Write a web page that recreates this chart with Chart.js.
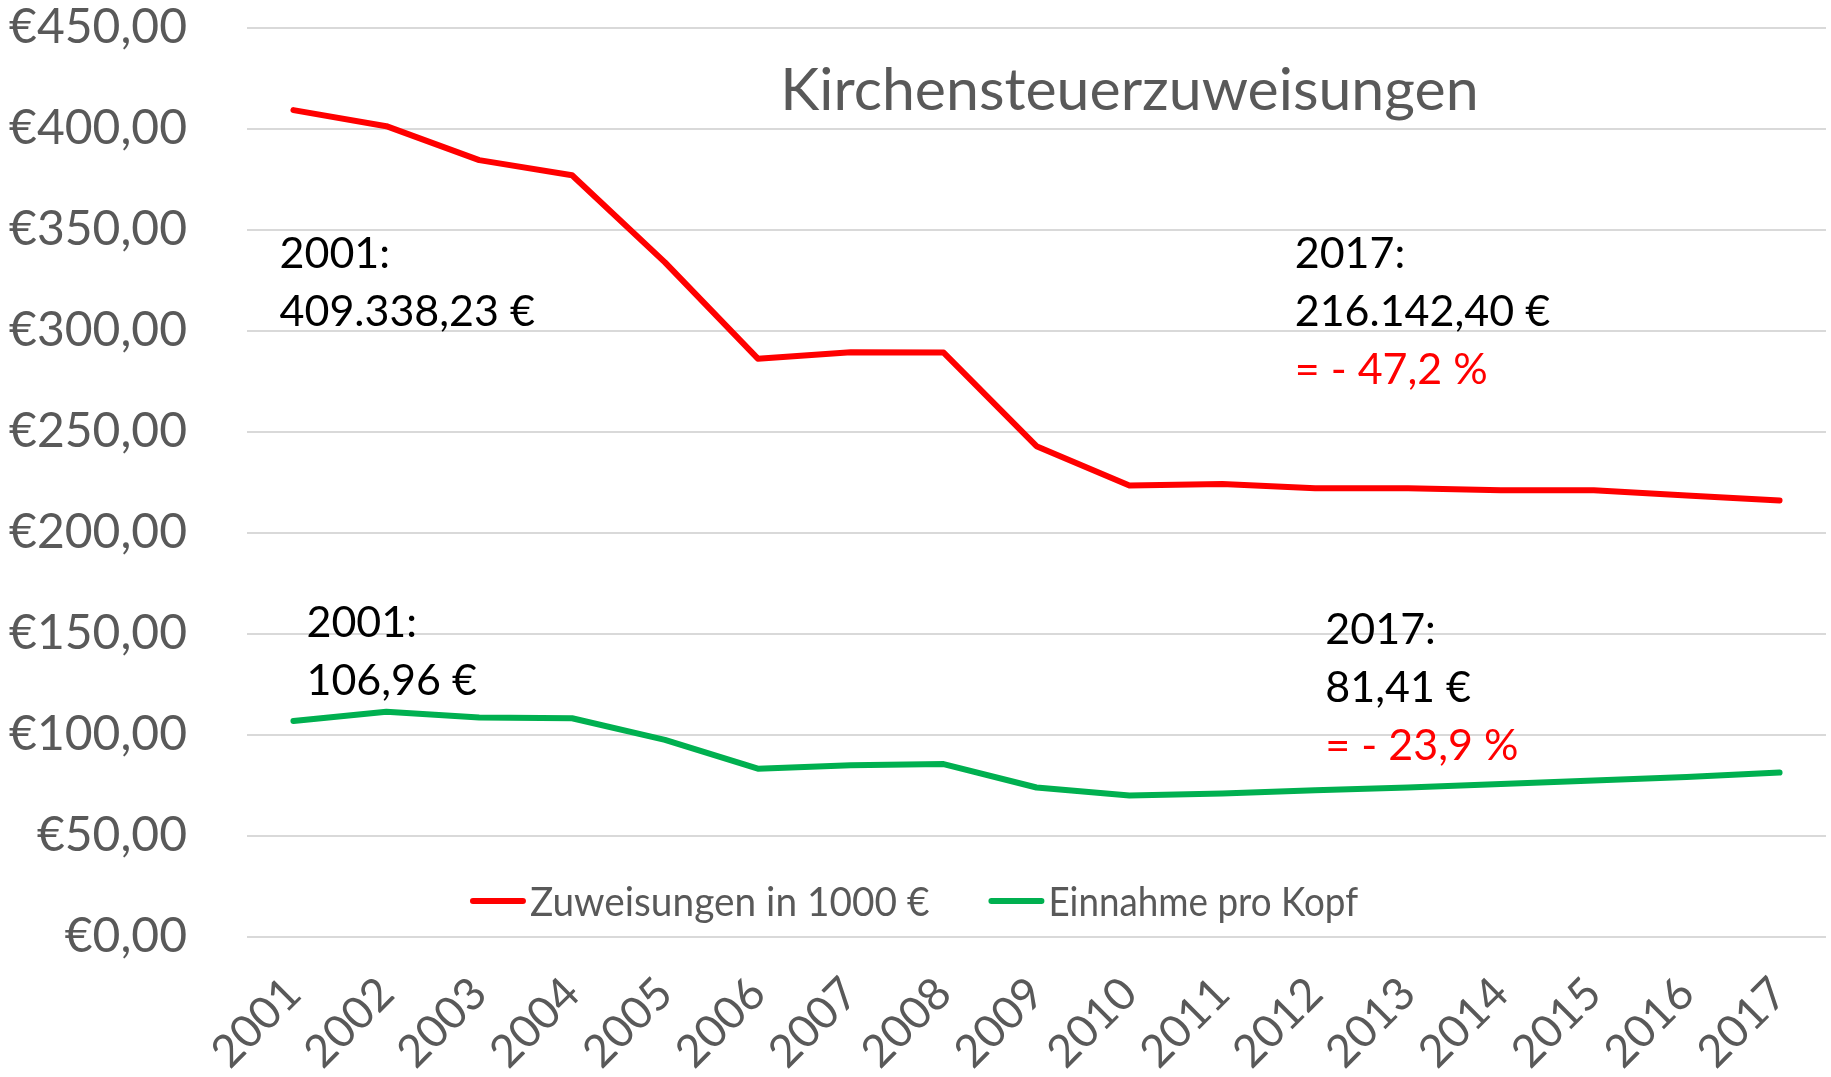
<!DOCTYPE html>
<html>
<head>
<meta charset="utf-8">
<title>Kirchensteuerzuweisungen</title>
<script src="https://cdn.jsdelivr.net/npm/chart.js@4.4.1/dist/chart.umd.min.js"></script>
<style>
  html, body { margin: 0; padding: 0; background: #fff; }
  #wrap { width: 1831px; height: 1077px; }
</style>
</head>
<body>
<div id="wrap"><canvas id="kirchenChart" width="1831" height="1077"></canvas></div>
<script>
// data
const years = ['2001', '2002', '2003', '2004', '2005', '2006', '2007', '2008', '2009',
               '2010', '2011', '2012', '2013', '2014', '2015', '2016', '2017'];
const zuweisungen = [409.34, 401.4, 384.6, 377.1, 334.0, 286.3, 289.5, 289.3, 243.0,
                     223.5, 224.3, 222.1, 222.1, 221.2, 221.2, 218.6, 216.14];
const einnahmeProKopf = [106.96, 111.5, 108.7, 108.3, 97.6, 83.3, 85.0, 85.6, 74.0,
                         70.1, 71.0, 72.6, 74.0, 75.8, 77.5, 79.2, 81.41];
const seriesLabels = ['Zuweisungen in 1000 €', 'Einnahme pro Kopf'];
const seriesColors = ['#FF0000', '#00B050'];
const yMin = 0, yMax = 450, yStep = 50;
const chartTitle = 'Kirchensteuerzuweisungen';

const noteZuw2001 = ['2001:', '409.338,23 €'];
const noteZuw2017 = ['2017:', '216.142,40 €', '= - 47,2 %'];
const noteKopf2001 = ['2001:', '106,96 €'];
const noteKopf2017 = ['2017:', '81,41 €', '= - 23,9 %'];

const FONT = 'Lato, "Open Sans", sans-serif';
const GREY = '#595959';

const euro = v => '€' + v.toFixed(2).replace('.', ',');

// title + text boxes are anchored in data space (category index, value)
const overlay = {
  id: 'overlay',
  afterDatasetsDraw(chart) {
    const { ctx, scales: { x, y }, chartArea } = chart;
    ctx.save();
    ctx.textBaseline = 'middle';

    ctx.font = '59px ' + FONT;
    ctx.fillStyle = GREY;
    ctx.textAlign = 'center';
    ctx.fillText(chartTitle, x.getPixelForValue(9), y.getPixelForValue(419));

    const notes = [
      { at: [-0.15, 338], lines: noteZuw2001 },
      { at: [10.78, 338], lines: noteZuw2017 },
      { at: [0.14, 155.4], lines: noteKopf2001 },
      { at: [11.11, 151.8], lines: noteKopf2017 }
    ];
    ctx.font = '43px ' + FONT;
    ctx.textAlign = 'left';
    notes.forEach(n => {
      const px = x.getPixelForValue(n.at[0]);
      const py = y.getPixelForValue(n.at[1]);
      n.lines.forEach((t, i) => {
        ctx.fillStyle = t.startsWith('=') ? '#FF0000' : '#000000';
        ctx.fillText(t, px, py + i * 58);
      });
    });

    // legend sits inside the plot, just above the zero line
    ctx.font = '40px ' + FONT;
    const squeeze = [0.97, 0.92];
    const sample = 50, gap = 7, between = 62;
    const widths = seriesLabels.map((l, i) => ctx.measureText(l).width * squeeze[i]);
    const total = widths.reduce((a, w) => a + sample + gap + w, 0) + between;
    let lx = (chart.width - total) / 2;
    const ly = chartArea.bottom - 36;
    seriesLabels.forEach((l, i) => {
      ctx.strokeStyle = seriesColors[i];
      ctx.lineWidth = 6;
      ctx.lineCap = 'round';
      ctx.beginPath();
      ctx.moveTo(lx, ly);
      ctx.lineTo(lx + sample, ly);
      ctx.stroke();
      lx += sample + gap;
      ctx.save();
      ctx.translate(lx, ly);
      ctx.scale(squeeze[i], 1);
      ctx.fillStyle = GREY;
      ctx.fillText(l, 0, 2);
      ctx.restore();
      lx += widths[i] + between;
    });
    ctx.restore();
  }
};

new Chart(document.getElementById('kirchenChart').getContext('2d'), {
  type: 'line',
  data: {
    labels: years,
    datasets: [
      { label: seriesLabels[0], data: zuweisungen, borderColor: seriesColors[0], borderWidth: 6,
        pointRadius: 0, tension: 0, fill: false, borderJoinStyle: 'round', borderCapStyle: 'round' },
      { label: seriesLabels[1], data: einnahmeProKopf, borderColor: seriesColors[1], borderWidth: 6,
        pointRadius: 0, tension: 0, fill: false, borderJoinStyle: 'round', borderCapStyle: 'round' }
    ]
  },
  options: {
    responsive: false,
    animation: false,
    layout: { padding: { top: 28, right: 5, left: 0, bottom: 0 } },
    plugins: { legend: { display: false }, title: { display: false }, tooltip: { enabled: false } },
    scales: {
      x: {
        offset: true,
        grid: { display: false },
        border: { display: false },
        ticks: { color: GREY, font: { family: FONT, size: 45 }, minRotation: 45, maxRotation: 45, padding: 22 },
        afterFit: s => { s.height = 140; s.paddingLeft = 0; s.paddingRight = 0; }
      },
      y: {
        min: yMin, max: yMax,
        grid: { color: '#D9D9D9', lineWidth: 2, drawTicks: false },
        border: { display: false },
        ticks: { stepSize: yStep, color: GREY, font: { family: FONT, size: 48 }, padding: 60, callback: v => euro(v) },
        afterFit: s => { s.width = 247; s.paddingTop = 0; s.paddingBottom = 0; }
      }
    }
  },
  plugins: [overlay]
});
</script>
</body>
</html>
